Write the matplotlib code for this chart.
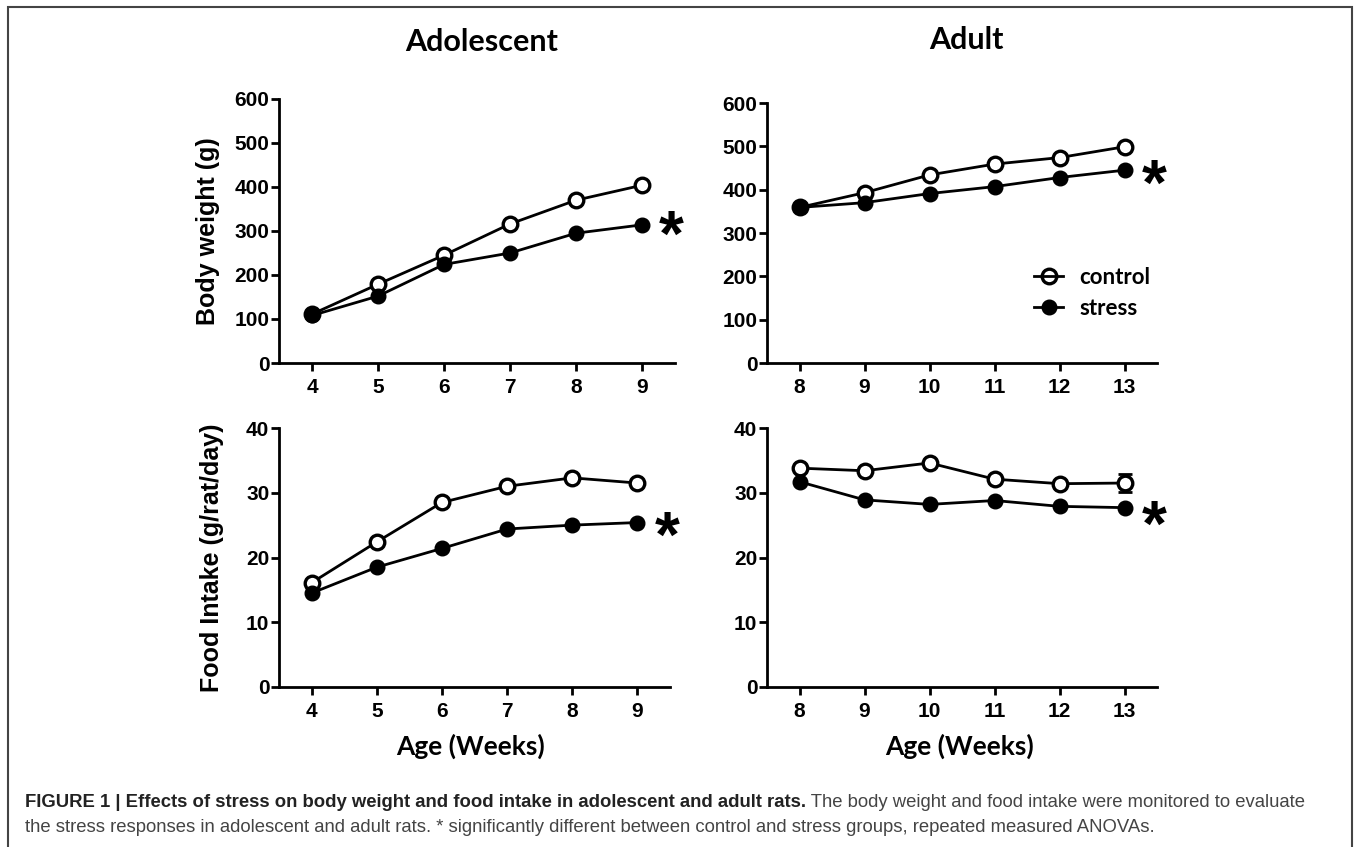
import matplotlib
matplotlib.use("Agg")
import matplotlib.pyplot as plt
from matplotlib.patches import Rectangle
from matplotlib.lines import Line2D

# ---- data ----
weeks_adol = [4, 5, 6, 7, 8, 9]
weeks_adult = [8, 9, 10, 11, 12, 13]

bw_adol_control = [111, 179, 245, 316, 370, 404]
bw_adol_stress = [108, 152, 224, 250, 295, 314]
bw_adult_control = [359, 393, 434, 459, 474, 499]
bw_adult_stress = [359, 370, 391, 407, 428, 445]

fi_adol_control = [16.1, 22.4, 28.5, 31.0, 32.3, 31.5]
fi_adol_stress = [14.5, 18.5, 21.4, 24.4, 25.0, 25.4]
fi_adult_control = [33.8, 33.4, 34.6, 32.1, 31.4, 31.5]
fi_adult_control_err = [0, 0, 0, 0, 0, 1.4]
fi_adult_stress = [31.7, 28.9, 28.2, 28.8, 27.9, 27.7]

bw_ticks = [0, 100, 200, 300, 400, 500, 600]
fi_ticks = [0, 10, 20, 30, 40]

col_titles = ["Adolescent", "Adult"]
row_labels = ["Body weight (g)", "Food Intake (g/rat/day)"]
xlabel = "Age (Weeks)"
# significance asterisks (centre of the glyph, data units)
star_pos = [(9.44, 314), (13.45, 436), (9.45, 24.9), (13.45, 26.6)]

caption_bold = ("FIGURE 1 | Effects of stress on body weight and food intake "
                "in adolescent and adult rats.")
caption_rest = " The body weight and food intake were monitored to evaluate"
caption_line2 = ("the stress responses in adolescent and adult rats. * significantly "
                 "different between control and stress groups, repeated measured ANOVAs.")

ARIAL = "Liberation Sans"
CALIBRI = "Lato"

fig = plt.figure(figsize=(13.54, 8.47), dpi=100)
W, H = 1354, 847


def px_axes(l, t, r, b):
    return fig.add_axes([l / W, 1 - b / H, (r - l) / W, (b - t) / H])


axes = [
    px_axes(279, 99, 675, 363),
    px_axes(767, 103, 1157, 363),
    px_axes(279, 428, 670, 687),
    px_axes(767, 428, 1157, 687),
]

panels = [
    (weeks_adol, bw_adol_control, bw_adol_stress, None, bw_ticks),
    (weeks_adult, bw_adult_control, bw_adult_stress, None, bw_ticks),
    (weeks_adol, fi_adol_control, fi_adol_stress, None, fi_ticks),
    (weeks_adult, fi_adult_control, fi_adult_stress, fi_adult_control_err, fi_ticks),
]

for i, (ax, (wk, ctrl, strs, err, yt)) in enumerate(zip(axes, panels)):
    ax.plot(wk, ctrl, "-", color="black", lw=2, zorder=2)
    ax.plot(wk, strs, "-", color="black", lw=2, zorder=2)
    if err is not None:
        ax.errorbar(wk, ctrl, yerr=err, fmt="none", ecolor="black",
                    elinewidth=2, capsize=5, capthick=2, zorder=2)
    ax.plot(wk, ctrl, "o", ms=10.5, mfc="white", mec="black", mew=2.4,
            zorder=3)
    ax.plot(wk, strs, "o", ms=10.5, mfc="black", mec="black", zorder=4)

    ax.set_xlim(wk[0] - 0.5, wk[-1] + 0.5)
    ax.set_ylim(yt[0], yt[-1])
    ax.set_xticks(wk)
    ax.set_yticks(yt)
    for s in ["top", "right"]:
        ax.spines[s].set_visible(False)
    for s in ["left", "bottom"]:
        ax.spines[s].set_linewidth(2)
    ax.tick_params(width=2, length=6, labelsize=15, pad=1)
    ax.tick_params(axis="x", pad=5)
    for lab in ax.get_xticklabels() + ax.get_yticklabels():
        lab.set_fontfamily(ARIAL)
        lab.set_fontweight("bold")
    ax.patch.set_alpha(0)

    sx, sy = star_pos[i]
    ax.annotate("*", xy=(sx, sy), xytext=(0, -10), textcoords="offset points",
                fontsize=46, fontweight="bold", fontfamily=ARIAL,
                ha="center", va="center", annotation_clip=False)

# column titles
fig.text(482 / W, 1 - 42 / H, col_titles[0], fontsize=22, fontweight="bold",
         fontfamily=CALIBRI, ha="center", va="center")
fig.text(966 / W, 1 - 40 / H, col_titles[1], fontsize=22, fontweight="bold",
         fontfamily=CALIBRI, ha="center", va="center")

# row labels
fig.text(208 / W, 1 - 231 / H, row_labels[0], fontsize=18, fontweight="bold",
         fontfamily=ARIAL, rotation=90, ha="center", va="center")
fig.text(212 / W, 1 - 558 / H, row_labels[1], fontsize=18, fontweight="bold",
         fontfamily=ARIAL, rotation=90, ha="center", va="center")

# x labels
fig.text(471 / W, 1 - 746 / H, xlabel, fontsize=19, fontweight="bold",
         fontfamily=CALIBRI, ha="center", va="center")
fig.text(960 / W, 1 - 746 / H, xlabel, fontsize=19, fontweight="bold",
         fontfamily=CALIBRI, ha="center", va="center")

# legend
handles = [
    Line2D([], [], color="black", lw=2, marker="o", ms=10.5, mfc="none",
           mec="black", mew=2.4, label="control"),
    Line2D([], [], color="black", lw=2, marker="o", ms=10.5, mfc="black",
           mec="black", label="stress"),
]
axes[1].legend(handles=handles, loc="center left",
               bbox_to_anchor=(0.685, 0.271), frameon=False,
               borderpad=0, borderaxespad=0,
               prop={"family": CALIBRI, "weight": "bold", "size": 16},
               handlelength=1.3, handletextpad=0.72, labelspacing=0.45)

# caption
cap = fig.text(25 / W, 1 - 802 / H, caption_bold, fontsize=13.3,
               fontweight="bold", fontfamily=ARIAL, color="#222222",
               ha="left", va="center")
axes[0].annotate(caption_rest, xy=(1, 0), xycoords=cap, va="bottom",
                 ha="left", fontsize=13.3, fontfamily=ARIAL,
                 color="#444444", annotation_clip=False)
fig.text(25 / W, 1 - 827 / H, caption_line2, fontsize=13.3,
         fontfamily=ARIAL, color="#444444", ha="left", va="center")

# frame around the figure
fig.patches.append(Rectangle((8 / W, -0.01), (1352 - 8) / W, 1 - 7 / H + 0.01,
                             transform=fig.transFigure, fill=False,
                             edgecolor="#444444", lw=1.5))

fig.savefig("out.png", dpi=100)
